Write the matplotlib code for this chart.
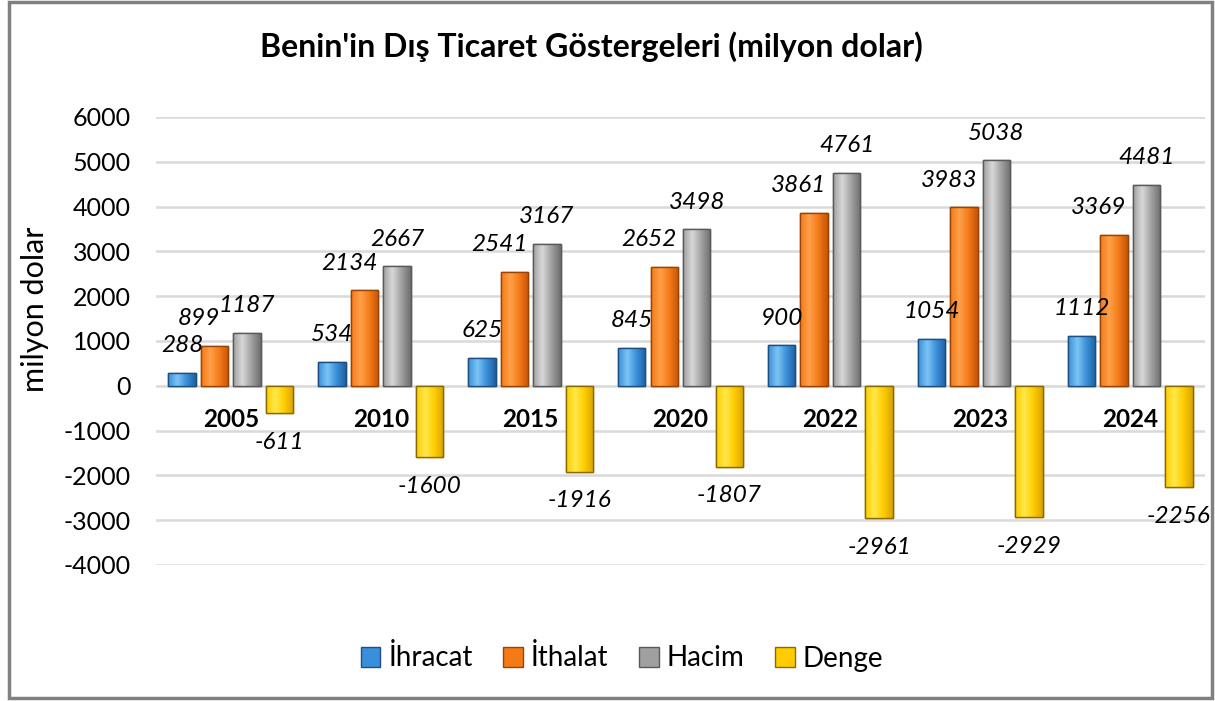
import numpy as np
import matplotlib
matplotlib.use("Agg")
import matplotlib.pyplot as plt
from matplotlib.patches import Patch, Rectangle
from matplotlib.colors import LinearSegmentedColormap

# === Data ===
years = ["2005", "2010", "2015", "2020", "2022", "2023", "2024"]
ihracat = [288, 534, 625, 845, 900, 1054, 1112]
ithalat = [899, 2134, 2541, 2652, 3861, 3983, 3369]
hacim = [1187, 2667, 3167, 3498, 4761, 5038, 4481]
denge = [-611, -1600, -1916, -1807, -2961, -2929, -2256]
series_names = ["İhracat", "İthalat", "Hacim", "Denge"]
y_ticks = [6000, 5000, 4000, 3000, 2000, 1000, 0, -1000, -2000, -3000, -4000]

# === Style ===
# (light, base, dark, edge)
palette = [
    ("#7cc4f4", "#3a8fd9", "#1f5f9f", "#1d4f80"),
    ("#ffa04a", "#f47a18", "#c45408", "#9a4306"),
    ("#d8d8d8", "#a0a0a0", "#6e6e6e", "#5a5a5a"),
    ("#ffe84a", "#ffcc00", "#d9a400", "#8a6a00"),
]
label_dx = [0, -11, 0, 0]  # points

plt.rcParams["font.family"] = ["Lato", "DejaVu Sans"]
plt.rcParams["axes.unicode_minus"] = False

fig = plt.figure(figsize=(12.15, 7.01), dpi=100)
ax = fig.add_axes([156 / 1215, 1 - 565 / 701, (1205 - 156) / 1215, (565 - 117) / 701])

x = np.arange(len(years))
step = 0.217
width = 0.183
all_series = [ihracat, ithalat, hacim, denge]

for i, vals in enumerate(all_series):
    light, base, dark, edge = palette[i]
    cmap = LinearSegmentedColormap.from_list("g%d" % i, [base, light, base, dark])
    pos = x + (i - 1.5) * step
    bars = ax.bar(pos, vals, width, color=base, edgecolor=edge, linewidth=1.0, zorder=3)
    grad = np.linspace(0, 1, 64).reshape(1, -1)
    for b in bars:
        x0, y0 = b.get_x(), b.get_y()
        w, h = b.get_width(), b.get_height()
        im = ax.imshow(grad, extent=[x0, x0 + w, min(y0, y0 + h), max(y0, y0 + h)],
                       cmap=cmap, aspect="auto", zorder=3.5, interpolation="bicubic")
        im.set_clip_path(b)
        b_edge = Rectangle((x0, y0), w, h, fill=False, edgecolor=edge, linewidth=1.0, zorder=4)
        ax.add_patch(b_edge)
    for p, v in zip(pos, vals):
        off = 19.5 if v >= 0 else -21
        ax.annotate(str(v), (p, v), xytext=(label_dx[i], off), textcoords="offset points",
                    ha="center", va="center", fontsize=17.5, style="italic", zorder=6)

# category labels inside plot area
for xi, yr in zip(x, years):
    ax.text(xi, -760, yr, ha="center", va="center", fontsize=17.5, fontweight="bold", zorder=6)

ax.set_xlim(-0.5, len(years) - 0.5)
ax.set_ylim(-4000, 6000)
ax.set_yticks(y_ticks)
ax.set_xticks([])
ax.tick_params(axis="y", length=0, pad=18, labelsize=18)
ax.grid(axis="y", color="#d9d9d9", linewidth=1.8, zorder=0)
ax.set_axisbelow(True)
for s in ax.spines.values():
    s.set_visible(False)

ax.set_ylabel("milyon dolar", fontsize=22)
ax.yaxis.set_label_coords(-0.102, 0.57)

fig.text(0.487, 1 - 47 / 701, "Benin'in Dış Ticaret Göstergeleri (milyon dolar)",
         ha="center", va="center", fontsize=23, fontweight="bold")

handles = [Patch(facecolor=palette[i][1], edgecolor=palette[i][3], label=series_names[i])
           for i in range(4)]
fig.legend(handles=handles, loc="center", bbox_to_anchor=(0.512, 1 - 658 / 701), ncol=4,
           frameon=False, fontsize=20, handlelength=0.7, handleheight=0.7,
           handletextpad=0.3, columnspacing=1.1)

# outer frame
fig.patches.append(Rectangle((9 / 1215, 1 - 698 / 701), (1212 - 9) / 1215, (698 - 2) / 701,
                             fill=False, edgecolor="#808080", linewidth=2.5,
                             transform=fig.transFigure, figure=fig))

fig.savefig("out.png", dpi=100)
